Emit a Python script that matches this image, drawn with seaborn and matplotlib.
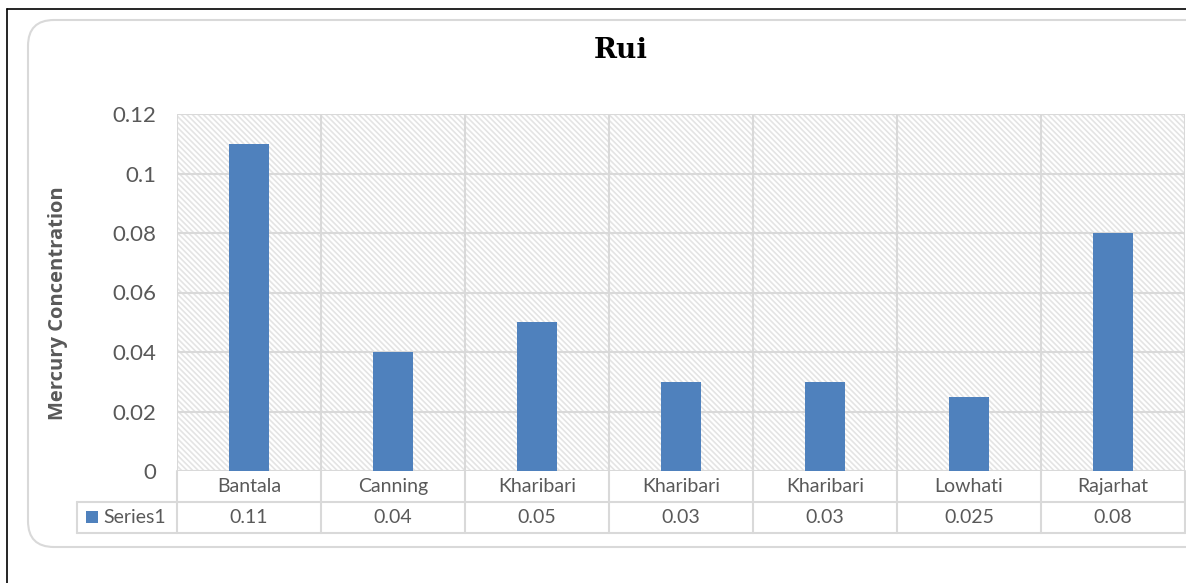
import pandas as pd
import seaborn as sns
import matplotlib.pyplot as plt
from matplotlib.lines import Line2D
from matplotlib.patches import Rectangle, FancyBboxPatch
from matplotlib.transforms import blended_transform_factory

# chart data
sites = ['Bantala', 'Canning', 'Kharibari', 'Kharibari', 'Kharibari', 'Lowhati', 'Rajarhat']
values = [0.11, 0.04, 0.05, 0.03, 0.03, 0.025, 0.08]
value_labels = ['0.11', '0.04', '0.05', '0.03', '0.03', '0.025', '0.08']
y_ticks = [0, 0.02, 0.04, 0.06, 0.08, 0.1, 0.12]
y_tick_labels = ['0', '0.02', '0.04', '0.06', '0.08', '0.1', '0.12']
series_name = 'Series1'
title = 'Rui'
y_label = 'Mercury Concentration'

sns.set_style('white')
plt.rcParams['font.family'] = ['Lato', 'DejaVu Sans']
plt.rcParams['hatch.linewidth'] = 1.2

W, H = 1186, 583
text_color = '#595959'
grid_color = '#d9d9d9'
hatch_color = '#e4e4e4'
bar_color = '#4F81BD'


def fx(x):
    return x / W


def fy(y):
    return 1 - y / H


fig = plt.figure(figsize=(W / 100, H / 100), dpi=100)

# outer black border and rounded chart frame
fig.add_artist(Line2D([fx(7), fx(7)], [fy(9), 0], color='black', lw=1.2))
fig.add_artist(Line2D([fx(7), 1], [fy(9), fy(9)], color='black', lw=1.2))
fig.add_artist(FancyBboxPatch((fx(28), fy(547)), fx(1400), fy(20) - fy(547),
                              boxstyle='round,pad=0,rounding_size=%f' % fx(26),
                              mutation_aspect=W / H,
                              fc='none', ec=grid_color, lw=1.5, zorder=-1,
                              transform=fig.transFigure))

ax = fig.add_axes([fx(177), fy(471), fx(1185) - fx(177), fy(114) - fy(471)])
ax.set_facecolor('none')

df = pd.DataFrame({'pos': range(len(sites)), 'site': sites, 'value': values})

# hatched plot area
ax.add_patch(Rectangle((0, 0), 1, 1, transform=ax.transAxes, fc='white',
                       ec=hatch_color, lw=0, hatch='\\' * 6, zorder=0))

sns.barplot(data=df, x='pos', y='value', color=bar_color, width=0.28,
            saturation=1, linewidth=0, ax=ax, zorder=3)

ax.set_xlim(-0.5, len(sites) - 0.5)
ax.set_ylim(0, 0.12)
ax.set_yticks(y_ticks)
ax.set_yticklabels(y_tick_labels, fontsize=16, color=text_color)
ax.tick_params(axis='y', length=0, pad=15)
ax.set_xticks([])
ax.set_xlabel('')
ax.set_ylabel(y_label, fontsize=14.5, fontweight='bold', family='Open Sans',
              color=text_color)
ax.yaxis.set_label_coords(-0.108, 0.47)
for t in y_ticks:
    ax.axhline(t, color=grid_color, lw=1.5, zorder=1)
for i in range(len(sites) + 1):
    ax.axvline(i - 0.5, color=grid_color, lw=1.5, zorder=1)
for s in ax.spines.values():
    s.set_visible(False)

# data table under the axis
tr = blended_transform_factory(ax.transData, ax.transAxes)
ax_h = 471 - 114
row1 = -31 / ax_h
row2 = -62 / ax_h
for i in range(len(sites) + 1):
    ax.plot([i - 0.5, i - 0.5], [0, row2], transform=tr, color=grid_color,
            lw=1.5, clip_on=False)
for i, (s, v) in enumerate(zip(sites, value_labels)):
    ax.text(i, row1 / 2, s, transform=tr, ha='center', va='center',
            fontsize=14, color=text_color)
    ax.text(i, (row1 + row2) / 2, v, transform=tr, ha='center', va='center',
            fontsize=14, color=text_color)

for yy in (502, 533):
    fig.add_artist(Line2D([fx(77), fx(1185)], [fy(yy), fy(yy)], color=grid_color, lw=1.5))
fig.add_artist(Line2D([fx(77), fx(77)], [fy(502), fy(533)], color=grid_color, lw=1.5))

# legend key inside the table
fig.add_artist(Rectangle((fx(86), fy(523)), fx(12), fy(511) - fy(523),
                         fc=bar_color, ec='none', transform=fig.transFigure))
fig.text(fx(103), fy(517.5), series_name, ha='left', va='center',
         fontsize=14, color=text_color)

fig.text(fx(621), fy(51), title, ha='center', va='center', fontsize=20,
         fontweight='bold', family='DejaVu Serif', color='black')

plt.savefig('out.png', dpi=100)
